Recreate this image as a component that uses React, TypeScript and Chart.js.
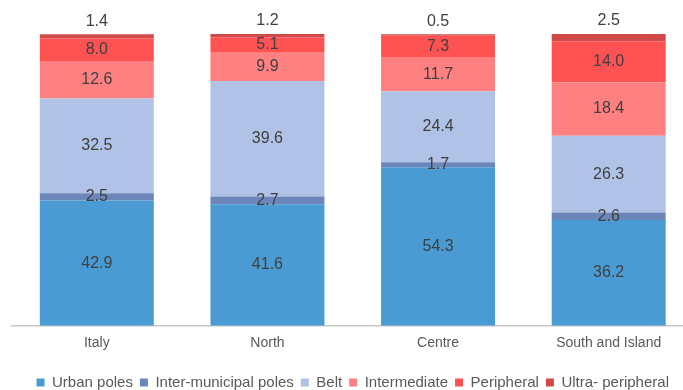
import React, { useEffect, useRef } from "react";
import { Chart, registerables } from "chart.js";

Chart.register(...registerables);

const categories = ["Italy", "North", "Centre", "South and Island"];
const seriesNames = [
  "Urban poles",
  "Inter-municipal poles",
  "Belt",
  "Intermediate",
  "Peripheral",
  "Ultra- peripheral",
];
const urbanPoles = [42.9, 41.6, 54.3, 36.2];
const interMunicipalPoles = [2.5, 2.7, 1.7, 2.6];
const belt = [32.5, 39.6, 24.4, 26.3];
const intermediate = [12.6, 9.9, 11.7, 18.4];
const peripheral = [8.0, 5.1, 7.3, 14.0];
const ultraPeripheral = [1.4, 1.2, 0.5, 2.5];
const seriesColors = ["#4A9BD4", "#6B86B8", "#B0C2E6", "#FF8080", "#FF5252", "#D04A4A"];

const FONT = "'Liberation Sans', Arial, sans-serif";

const labelPlugin = {
  id: "barLabels",
  afterDatasetsDraw(chart: any) {
    const ctx = chart.ctx;
    ctx.save();
    ctx.font = `16px ${FONT}`;
    ctx.fillStyle = "#404040";
    ctx.textAlign = "center";
    ctx.textBaseline = "middle";
    const n = chart.data.datasets.length;
    chart.data.datasets.forEach((ds: any, i: number) => {
      const meta = chart.getDatasetMeta(i);
      meta.data.forEach((el: any, j: number) => {
        const v = ds.data[j] as number;
        const p = el.getProps(["x", "y", "base"], true);
        const ty = i === n - 1 ? p.y - 13 : (p.y + p.base) / 2;
        ctx.fillText(v.toFixed(1), p.x, ty);
      });
    });
    ctx.restore();
  },
};

export default function App() {
  const ref = useRef<HTMLCanvasElement | null>(null);
  useEffect(() => {
    if (!ref.current) return;
    const values = [urbanPoles, interMunicipalPoles, belt, intermediate, peripheral, ultraPeripheral];
    const chart = new Chart(ref.current, {
      type: "bar",
      data: {
        labels: categories,
        datasets: values.map((d, i) => ({
          label: seriesNames[i],
          data: d,
          backgroundColor: seriesColors[i],
          borderWidth: 0,
          barPercentage: 0.668,
          categoryPercentage: 1,
        })),
      },
      options: {
        responsive: false,
        animation: false,
        devicePixelRatio: 1,
        layout: { padding: { left: 11.5, right: 6, top: 34, bottom: 2 } },
        scales: {
          x: {
            stacked: true,
            grid: { display: false, drawTicks: false },
            border: { display: true, color: "#C8C8C8", width: 1.5 },
            ticks: { color: "#595959", font: { family: FONT, size: 14 }, padding: 9 },
            afterFit: (scale: any) => {
              scale.height += 7.5;
            },
          },
          y: {
            stacked: true,
            display: false,
            min: 0,
            max: 100,
          },
        },
        plugins: {
          legend: {
            position: "bottom",
            labels: {
              boxWidth: 8,
              boxHeight: 8,
              padding: 7,
              color: "#595959",
              font: { family: FONT, size: 15 },
            },
          },
          tooltip: { enabled: false },
        },
      },
      plugins: [labelPlugin],
    });
    return () => chart.destroy();
  }, []);
  return (
    <div style={{ position: "absolute", left: 0, top: 0, width: 683, height: 390, overflow: "hidden", background: "#fff" }}>
      <canvas ref={ref} width={700} height={402} style={{ width: 700, height: 402, display: "block" }} />
    </div>
  );
}
